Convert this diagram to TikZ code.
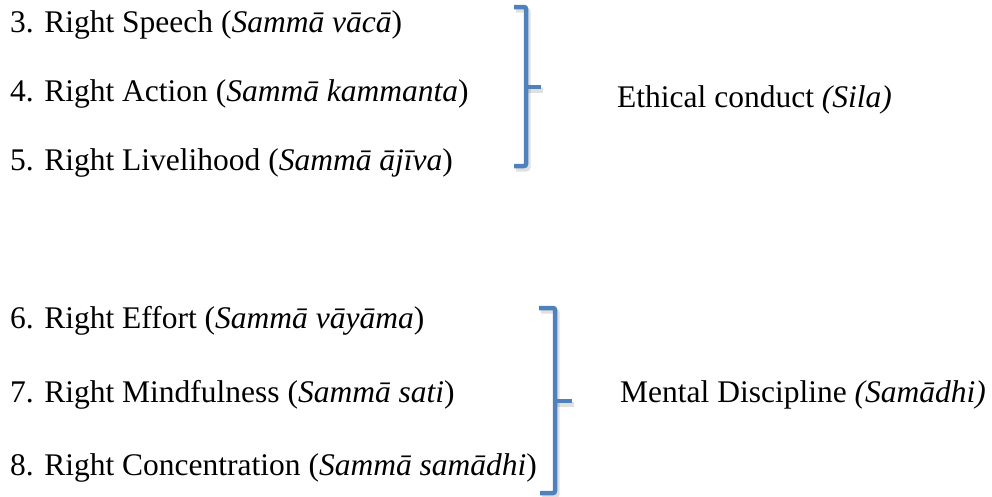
\documentclass[tikz,border=0pt]{standalone}
\usepackage{fontspec}
\setmainfont{Liberation Serif}
\definecolor{brk}{HTML}{4F81BD}
\begin{document}
\begin{tikzpicture}[x=1pt,y=-1pt,
  item/.style={anchor=base west,inner sep=0pt,font=\fontsize{31.5}{36}\selectfont},
  bracketline/.style={draw=brk,line width=4.5pt,rounded corners=2pt},
  bracketshadow/.style={draw=black,opacity=0.12,line width=5pt,rounded corners=2pt}]
\useasboundingbox (0,0) rectangle (992,496);
% top group
\node[item] (r3) at (10,32) {3. Right Speech (\textit{Sammā vācā})};
\node[item] (r4) at (10,101) {4. Right Action (\textit{Sammā kammanta})};
\node[item] (r5) at (10,170) {5. Right Livelihood (\textit{Sammā ājīva})};
\node[item] (sila) at (617,107) {Ethical conduct \textit{(Sila)}};
% bottom group
\node[item] (r6) at (10,328) {6. Right Effort (\textit{Sammā vāyāma})};
\node[item] (r7) at (10,402) {7. Right Mindfulness (\textit{Sammā sati})};
\node[item] (r8) at (10,475) {8. Right Concentration (\textit{Sammā samādhi})};
\node[item] (sam) at (620,402) {Mental Discipline \textit{(Samādhi)}};
% brackets (shadow first)
\begin{scope}[shift={(2,3)}]
\draw[bracketshadow] (514,7) -- (526,7) -- (526,166) -- (514,166);
\draw[bracketshadow] (526,87) -- (541,87);
\draw[bracketshadow] (539,308) -- (555,308) -- (555,493) -- (540,493);
\draw[bracketshadow] (555,401) -- (572,401);
\end{scope}
\draw[bracketline] (514,7) -- (526,7) -- (526,166) -- (514,166);
\draw[bracketline] (526,87) -- (541,87);
\draw[bracketline] (539,308) -- (555,308) -- (555,493) -- (540,493);
\draw[bracketline] (555,401) -- (572,401);
\end{tikzpicture}
\end{document}
